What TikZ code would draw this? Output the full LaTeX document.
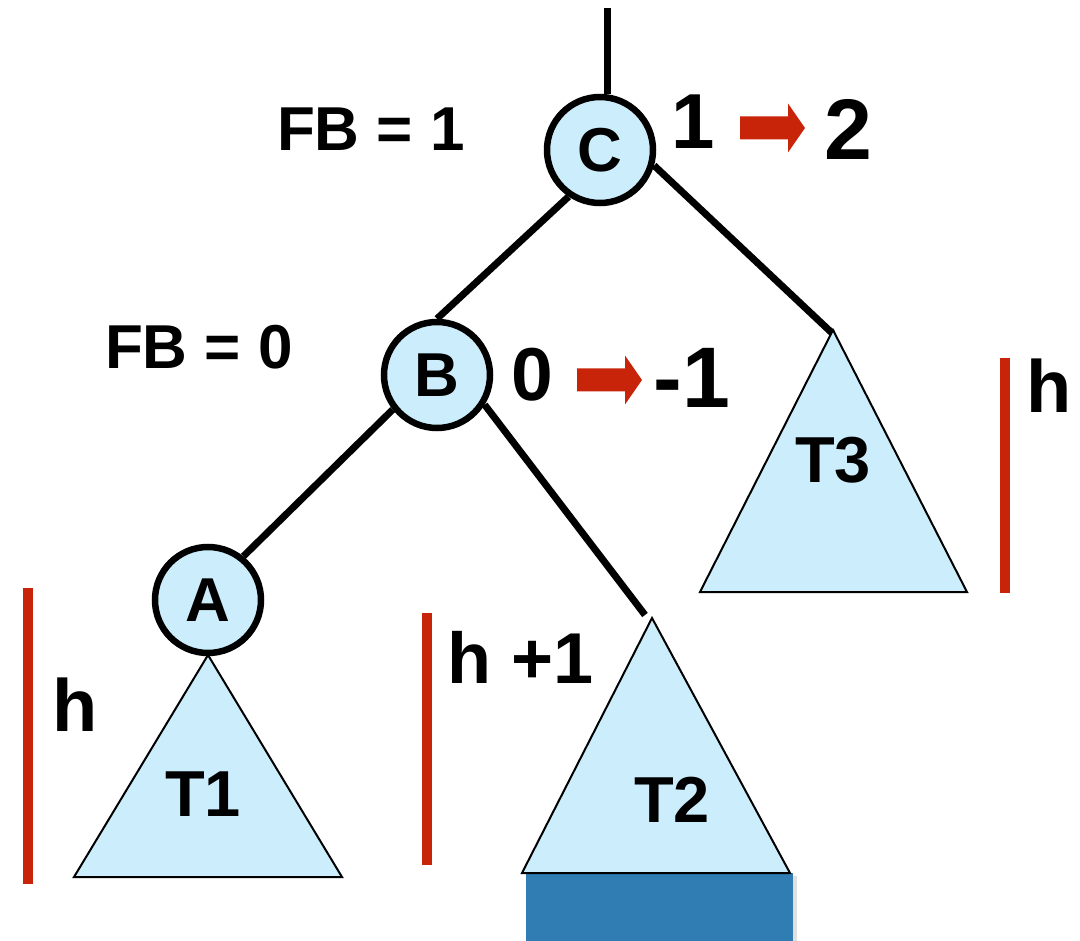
\documentclass[tikz,border=0pt]{standalone}
\usepackage{fontspec}
\setmainfont{Liberation Sans}
\definecolor{nodeblue}{RGB}{204,238,252}
\definecolor{redc}{RGB}{200,36,10}
\definecolor{darkblue}{RGB}{47,125,178}
\tikzset{
  treenode/.style={circle, draw=black, line width=6.5pt, fill=nodeblue, minimum size=106pt, inner sep=0pt,
    font=\fontsize{62}{62}\selectfont\bfseries},
  edge/.style={line width=7pt},
  subtree/.style={draw=black, line width=2pt, fill=nodeblue, line join=miter},
  lbl/.style={inner sep=0pt, font=\fontsize{#1}{#1}\selectfont\bfseries},
  hbar/.style={draw=redc, line width=10pt},
  redarrow/.pic={\fill[redc] (0,-11.5) -- (48,-11.5) -- (48,-24.5) -- (65,0) -- (48,24.5) -- (48,11.5) -- (0,11.5) -- cycle;}
}
\begin{document}
\begin{tikzpicture}[x=1pt,y=-1pt]
\useasboundingbox (0,0) rectangle (1080,941);
% nodes
\node[treenode] (C) at (600,150) {C};
\node[treenode] (B) at (437,375) {B};
\node[treenode] (A) at (208,600) {A};
% subtrees
\coordinate (t1top) at (208,655);
\coordinate (t2top) at (652,618);
\coordinate (t3top) at (833,330);
\fill[black, opacity=0.12] (529,876) rectangle (797,941);
\fill[darkblue] (526,873) rectangle (793,941);
\path[subtree] (t1top) -- (74,877) -- (342,877) -- cycle;
\path[subtree] (t2top) -- (522,873) -- (790,873) -- cycle;
\path[subtree] (t3top) -- (700,592) -- (967,592) -- cycle;
\node[lbl=65] (T1) at (203,794) {T1};
\node[lbl=65] (T2) at (672,800) {T2};
\node[lbl=65] (T3) at (833,460) {T3};
% edges
\coordinate (topend) at (607,8);
\coordinate (t2end) at (645,615);
\coordinate (t3end) at (832,333);
\draw[edge] (topend) -- (topend |- C.north);
\draw[edge] (C.236) -- (B.north);
\draw[edge] (C.-16) -- (t3end);
\draw[edge] (B.218) -- (A.51);
\draw[edge] (B.-32) -- (t2end);
% labels
\node[lbl=62] (fb1) at (371,129) {FB = 1};
\node[lbl=62] (fb0) at (199,347) {FB = 0};
\node[lbl=78] (c1) at (693,122) {1};
\node[lbl=86] (c2) at (848,129) {2};
\node[lbl=75] (b0) at (532,375) {0};
\node[lbl=86] (bm1) at (692,378) {-1};
\pic at (740,128) {redarrow};
\pic at (577,380) {redarrow};
% height bars
\coordinate (bar1a) at (28,588); \coordinate (bar1b) at (28,884);
\coordinate (bar2a) at (427,613); \coordinate (bar2b) at (427,865);
\coordinate (bar3a) at (1005,358); \coordinate (bar3b) at (1005,593);
\draw[hbar] (bar1a) -- (bar1b);
\draw[hbar] (bar2a) -- (bar2b);
\draw[hbar] (bar3a) -- (bar3b);
\node[lbl=74] (h1) at (75,705) {h};
\node[lbl=72] (h2) at (521,657) {h +1};
\node[lbl=74] (h3) at (1049,386) {h};
\end{tikzpicture}
\end{document}
